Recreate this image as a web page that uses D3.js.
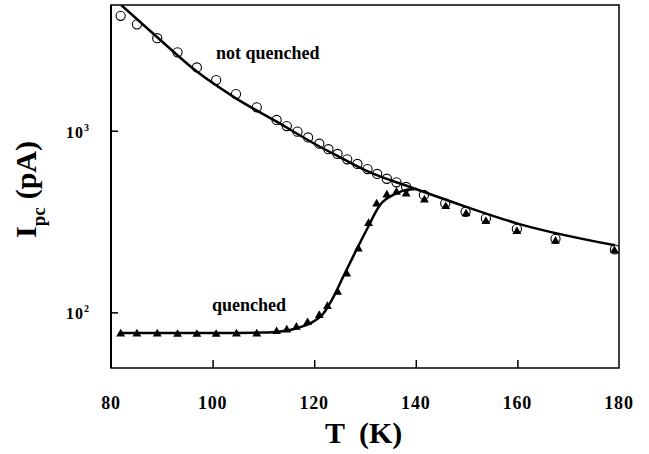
<!DOCTYPE html>
<html>
<head>
<meta charset="utf-8">
<script src="https://cdn.jsdelivr.net/npm/d3@7"></script>
<style>
body { margin: 0; background: #fff; }
svg { display: block; font-family: "Liberation Serif", "Times New Roman", serif; font-weight: bold; }
</style>
</head>
<body>
<svg></svg>
<script>
var width = 649;
var height = 454;
var margin = {left: 111, top: 5, right: 30, bottom: 86};

// data: temperature (K), current (pA)
var notQuenchedT = [81.9, 85.1, 89.1, 93.1, 96.9, 100.7, 104.6, 108.7, 112.6, 114.6, 116.7, 118.8, 121.0, 122.8,
                    124.6, 126.5, 128.5, 130.5, 132.4, 134.3, 136.2, 138.1, 141.6, 145.8, 149.8, 153.8, 159.9, 167.5, 179.2];
var notQuenchedI = [4290, 3850, 3230, 2700, 2230, 1900, 1590, 1345, 1146, 1061, 988, 918, 848, 791,
                    745, 696, 656, 615, 578, 544, 520, 490, 443, 398, 358, 329, 288, 254, 222];
var quenchedT = [81.9, 85.1, 89.1, 93.1, 96.9, 100.7, 104.7, 108.7, 112.6, 114.6, 116.5, 118.7, 121.0, 122.6,
                 124.6, 126.4, 128.7, 130.7, 132.3, 134.3, 136.2, 138.1, 141.7, 145.9, 149.9, 153.8, 159.9, 167.5, 179.1];
var quenchedI = [76.6, 76.6, 76.6, 76.2, 76.2, 76.2, 76.6, 76.6, 78.9, 80.6, 83.4, 88.5, 96.8, 108.5,
                 130, 164, 225, 311, 398, 446, 462, 452, 419, 385, 351, 319, 281, 248, 220];
// fitted curves
var fitNotQuenchedT = [82.0, 89.1, 96.9, 104.6, 112.6, 120.5, 125, 130, 134, 138.2, 141.5, 149.8, 159.9, 179.2];
var fitNotQuenchedI = [4920, 3270, 2115, 1507, 1121, 834, 716, 607, 546, 498, 461, 382, 309, 234];
var fitQuenchedT = [81.9, 100, 110, 113, 115.2, 117, 119.2, 121.8, 123.8, 125.7, 127.7, 130.3, 132.95, 136.2, 137.9, 140];
var fitQuenchedI = [76.9, 76.9, 77.5, 78.3, 79.9, 82.5, 87, 98.6, 121.8, 157, 204, 284, 390, 452, 471, 478];

var xTicks = [80, 100, 120, 140, 160, 180];
var yTicks = [100, 1000];

var svg = d3.select("svg")
    .attr("width", width)
    .attr("height", height);

var plotW = width - margin.left - margin.right;
var plotH = height - margin.top - margin.bottom;

var xScale = d3.scaleLinear()
    .domain([80, 180])
    .range([margin.left, margin.left + plotW]);
var yScale = d3.scaleLog()
    .domain([49.4, 4920])
    .range([margin.top + plotH, margin.top]);

svg.append("clipPath").attr("id", "plotclip")
    .append("rect")
    .attr("x", margin.left).attr("y", margin.top)
    .attr("width", plotW).attr("height", plotH);

// frame
svg.append("rect")
    .attr("x", margin.left).attr("y", margin.top)
    .attr("width", plotW).attr("height", plotH)
    .attr("fill", "none").attr("stroke", "#000").attr("stroke-width", 1.5);
svg.append("line")
    .attr("x1", margin.left).attr("x2", margin.left)
    .attr("y1", margin.top).attr("y2", margin.top + plotH)
    .attr("stroke", "#000").attr("stroke-width", 2);

// x axis, ticks pointing inward
var xAxis = d3.axisTop(xScale)
    .tickValues(xTicks.slice(1, -1))
    .tickSize(8)
    .tickFormat("");
var gx = svg.append("g")
    .attr("transform", "translate(0," + (margin.top + plotH) + ")")
    .call(xAxis);
gx.select(".domain").remove();
gx.selectAll(".tick line").attr("stroke-width", 1.5);

svg.selectAll(".xlabel")
    .data(xTicks)
    .enter()
    .append("text")
    .attr("x", d => xScale(d))
    .attr("y", 409)
    .attr("text-anchor", "middle")
    .style("font-size", "18px")
    .style("letter-spacing", "0.8px")
    .text(d => d);

// y axis, ticks pointing inward
var yAxis = d3.axisRight(yScale)
    .tickValues(yTicks)
    .tickSize(7)
    .tickFormat("");
var gy = svg.append("g")
    .attr("transform", "translate(" + margin.left + ",0)")
    .call(yAxis);
gy.select(".domain").remove();
gy.selectAll(".tick line").attr("stroke-width", 1.5);

var ylab = svg.selectAll(".ylabel")
    .data(yTicks)
    .enter()
    .append("text")
    .attr("x", 66)
    .attr("y", d => yScale(d) + 7)
    .style("font-size", "16px");
ylab.append("tspan").style("letter-spacing", "1px").text("10");
ylab.append("tspan")
    .attr("dy", -7)
    .style("font-size", "10px")
    .text(d => Math.round(Math.log10(d)));

// fitted curves
var line = d3.line()
    .x(d => xScale(d[0]))
    .y(d => yScale(d[1]))
    .curve(d3.curveMonotoneX);

var plot = svg.append("g").attr("clip-path", "url(#plotclip)");

plot.append("path")
    .datum(fitNotQuenchedT.map((t, i) => [t, fitNotQuenchedI[i]]))
    .attr("d", line)
    .attr("fill", "none").attr("stroke", "#000").attr("stroke-width", 2.5);
plot.append("path")
    .datum(fitQuenchedT.map((t, i) => [t, fitQuenchedI[i]]))
    .attr("d", line)
    .attr("fill", "none").attr("stroke", "#000").attr("stroke-width", 2.5);

// quenched: filled triangles
var tri = d3.symbol().type(d3.symbolTriangle).size(34);
plot.selectAll(".tri")
    .data(quenchedT.map((t, i) => [t, quenchedI[i]]))
    .enter()
    .append("path")
    .attr("d", tri)
    .attr("transform", d => "translate(" + xScale(d[0]) + "," + (yScale(d[1]) + 0.5) + ")")
    .attr("fill", "#000");

// not quenched: open circles
plot.selectAll(".circ")
    .data(notQuenchedT.map((t, i) => [t, notQuenchedI[i]]))
    .enter()
    .append("circle")
    .attr("cx", d => xScale(d[0]))
    .attr("cy", d => yScale(d[1]))
    .attr("r", 4.6)
    .attr("fill", "none")
    .attr("stroke", "#000")
    .attr("stroke-width", 1.1);

// annotations
svg.append("text")
    .attr("x", 216).attr("y", 59)
    .style("font-size", "18px")
    .text("not quenched");
svg.append("text")
    .attr("x", 212).attr("y", 311)
    .style("font-size", "18px")
    .text("quenched");

// x axis title
var xt = svg.append("text")
    .attr("x", 325).attr("y", 443)
    .style("font-size", "30px");
xt.append("tspan").text("T");
xt.append("tspan").attr("dx", 14).text("(K)");

// y axis title
var yt = svg.append("text")
    .attr("transform", "translate(36,238) rotate(-90)")
    .style("font-size", "30px");
yt.append("tspan").text("I");
yt.append("tspan").attr("dy", 9).style("font-size", "19px").text("pc");
yt.append("tspan").attr("dy", -9).attr("dx", 8).text("(pA)");
</script>
</body>
</html>
